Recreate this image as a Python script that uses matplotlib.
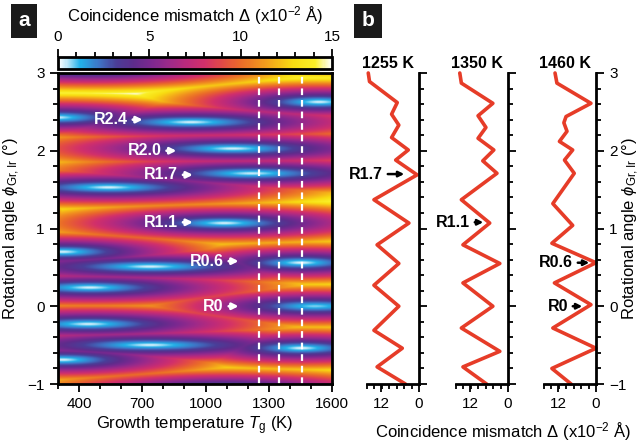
import numpy as np
import matplotlib.pyplot as plt
from matplotlib.colors import LinearSegmentedColormap
from matplotlib.patches import FancyArrowPatch
from matplotlib.ticker import MultipleLocator, FixedLocator

plt.rcParams['font.family'] = ['Liberation Sans', 'DejaVu Sans']
plt.rcParams['mathtext.fontset'] = 'custom'
plt.rcParams['mathtext.rm'] = 'Liberation Sans'
plt.rcParams['mathtext.it'] = 'Liberation Sans:italic'
plt.rcParams['mathtext.bf'] = 'Liberation Sans:bold'

# --- panel a: mismatch minima (blue spots) ---
# centre temperature (K), centre angle (deg), growth of mismatch per K, floor value
spot_T = [1540, 290, 930, 1130, 1220, 540, 1090, 320, 1455, 736, 450,
          1520, 443, 736, 1457, 320, 1090, 540, 450, 1700, 0, 100]
spot_phi = [2.63, 2.43, 2.37, 2.03, 1.71, 1.53, 1.07, 0.70, 0.56, 0.51, 0.24,
            0.00, -0.23, -0.50, -0.54, -0.69, -1.07, -1.53, 3.06, 3.25, 1.98, 1.10]
spot_slope = [0.016, 0.015, 0.011, 0.011, 0.011, 0.011, 0.013, 0.015, 0.016, 0.010, 0.012,
              0.014, 0.012, 0.010, 0.016, 0.015, 0.013, 0.011, 0.013, 0.013, 0.034, 0.050]
spot_floor = [0.3, 0.3, 0.3, 0.3, 0.4, 0.3, 0.3, 0.3, 0.2, 0.3, 0.3,
              0.8, 0.3, 0.3, 0.2, 0.3, 0.3, 0.3, 0.3, 0.3, 0.3, 0.3]
phi_slope = 45  # mismatch growth per degree of rotation

# --- panel b: line cuts at the three dashed temperatures ---
cut_temps = [1255, 1350, 1460]
phi_1255 = [3.0, 2.89, 2.62, 2.47, 2.33, 2.17, 2.01, 1.88, 1.69, 1.37, 1.07,
            0.79, 0.55, 0.27, 0.0, -0.31, -0.54, -0.78, -1.0]
delta_1255 = [16.1, 15.7, 6.9, 8.7, 6.4, 8.7, 3.4, 7.4, 0.6, 14.3, 3.2,
              13.3, 6.4, 14.3, 6.4, 14.3, 5.3, 13.3, 4.3]
phi_1350 = [3.0, 2.87, 2.61, 2.45, 2.30, 2.16, 2.01, 1.87, 1.71, 1.37, 1.07,
            0.79, 0.55, 0.30, 0.0, -0.28, -0.58, -0.78, -1.0]
delta_1350 = [15.3, 14.8, 4.8, 9.5, 7.0, 9.5, 4.5, 8.0, 3.5, 14.8, 5.8,
              14.3, 2.6, 14.3, 4.8, 14.8, 2.6, 14.3, 6.8]
phi_1460 = [3.0, 2.87, 2.61, 2.44, 2.36, 2.25, 2.12, 2.01, 1.88, 1.71, 1.32, 1.04,
            0.81, 0.56, 0.30, 0.02, -0.28, -0.54, -0.80, -1.0]
delta_1460 = [13.0, 12.4, 1.6, 9.5, 10.2, 9.2, 11.6, 7.4, 10.0, 6.9, 13.7, 7.4,
              14.0, 0.0, 13.2, 1.6, 13.7, 0.0, 14.0, 7.9]
cut_phis = [phi_1255, phi_1350, phi_1460]
cut_deltas = [delta_1255, delta_1350, delta_1460]

# colour scale of the map (0 ... 15 x10^-2 A)
cmap_colors = ['#ffffff', '#bfe8f8', '#22b0e8', '#3f72c4', '#4a3e98', '#5e2c8c',
               '#7c2890', '#9c2a8a', '#ba2a7c', '#d2306a', '#e24a46', '#ea6a2a',
               '#f08c20', '#f5b418', '#f8dc12', '#faf028', '#fcf8b0', '#ffffff']
cmap_pos = [0, 0.03, 0.08, 0.15, 0.21, 0.275, 0.34, 0.405, 0.47, 0.535, 0.6, 0.665,
            0.73, 0.795, 0.86, 0.94, 0.975, 1.0]
cmap = LinearSegmentedColormap.from_list('mismatch', list(zip(cmap_pos, cmap_colors)))

# build the map as the lowest mismatch over all listed minima
T = np.linspace(300, 1600, 521)
phi = np.linspace(-1, 3, 801)
TT, PP = np.meshgrid(T, phi)
field = np.full(TT.shape, np.inf)
for t0, p0, a, c in zip(spot_T, spot_phi, spot_slope, spot_floor):
    d = np.sqrt((a * (TT - t0)) ** 2 + (phi_slope * (PP - p0)) ** 2 + c ** 2)
    field = np.minimum(field, d)

fig = plt.figure(figsize=(6.44, 4.46), dpi=100)
W, H = 644, 446


def box(x0, y0, x1, y1):
    return [x0 / W, 1 - y1 / H, (x1 - x0) / W, (y1 - y0) / H]


ax = fig.add_axes(box(58, 73, 332, 384))
im = ax.imshow(field, extent=[300, 1600, -1, 3], origin='lower', aspect='auto',
               cmap=cmap, vmin=0, vmax=15, interpolation='bilinear')
for t in cut_temps:
    ax.axvline(t, color='white', linestyle=(0, (3, 2.2)), linewidth=1.6)
ax.set_xlim(300, 1600)
ax.set_ylim(-1, 3)
ax.set_xticks([400, 700, 1000, 1300, 1600])
ax.xaxis.set_minor_locator(MultipleLocator(100))
ax.set_yticks([-1, 0, 1, 2, 3])
ax.yaxis.set_minor_locator(MultipleLocator(0.2))
ax.tick_params(which='both', direction='out', width=1.3, labelsize=11, colors='black')
ax.tick_params(which='major', length=6)
ax.tick_params(which='minor', length=3.5)
for s in ax.spines.values():
    s.set_linewidth(2)
ax.set_xlabel('Growth temperature $\\mathit{T}_\\mathrm{g}$ (K)', fontsize=12, labelpad=2)
ax.set_ylabel('Rotational angle $\\phi_\\mathrm{Gr,Ir}$ (°)', fontsize=12, labelpad=4)

# structure labels with arrows
labels_a = ['R2.4', 'R2.0', 'R1.7', 'R1.1', 'R0.6', 'R0']
label_T = [630, 790, 868, 868, 1085, 1085]
label_phi = [2.40, 2.00, 1.69, 1.08, 0.58, 0.0]
for name, t, p in zip(labels_a, label_T, label_phi):
    ax.text(t, p, name, color='white', fontweight='bold', fontsize=11.5, ha='right', va='center')
    ax.annotate('', xy=(t + 85, p), xytext=(t + 12, p),
                arrowprops=dict(arrowstyle='-|>', color='white', lw=2, mutation_scale=9))

# colour bar on top
cax = fig.add_axes(box(58, 57, 332, 69))
cb = fig.colorbar(im, cax=cax, orientation='horizontal')
cax.xaxis.set_ticks_position('top')
cb.set_ticks([0, 5, 10, 15])
cax.xaxis.set_minor_locator(MultipleLocator(1))
cax.tick_params(which='both', direction='out', width=1.3, labelsize=11)
cax.tick_params(which='major', length=6)
cax.tick_params(which='minor', length=3.5)
cb.outline.set_linewidth(2)
fig.text(195 / W, 1 - 16 / H, 'Coincidence mismatch Δ (x10$^{-2}$ Å)', fontsize=12,
         ha='center', va='center')

# --- panel b ---
b_left = [367, 456, 544]
b_width = 52
labels_b = [('R1.7', 0, 1.70, 383, 407), ('R1.1', 1, 1.08, 470, 486),
            ('R0.6', 2, 0.56, 573, 592), ('R0', 2, 0.0, 568, 585)]
axes_b = []
for i, (t, ph, de) in enumerate(zip(cut_temps, cut_phis, cut_deltas)):
    bx = fig.add_axes(box(b_left[i], 73, b_left[i] + b_width, 384))
    bx.patch.set_alpha(0)
    bx.plot(de, ph, color='#e63c28', linewidth=2.6, solid_joinstyle='round',
            solid_capstyle='round', clip_on=False)
    bx.set_xlim(16.5, 0)
    bx.set_ylim(-1, 3)
    bx.spines['top'].set_visible(False)
    bx.spines['left'].set_visible(False)
    bx.spines['right'].set_linewidth(2)
    bx.spines['bottom'].set_linewidth(2)
    bx.yaxis.tick_right()
    bx.set_yticks([-1, 0, 1, 2, 3])
    bx.yaxis.set_minor_locator(MultipleLocator(0.2))
    bx.set_xticks([12, 0])
    bx.xaxis.set_minor_locator(FixedLocator(np.linspace(0, 16.5, 8)))
    bx.tick_params(which='both', direction='out', width=1.3, labelsize=11)
    bx.tick_params(which='major', length=6)
    bx.tick_params(which='minor', length=3.5)
    if i < 2:
        bx.tick_params(axis='y', labelright=False)
    fig.text((b_left[i] + 21) / W, 1 - 63 / H, f'{t} K', fontsize=11.5, fontweight='bold',
             ha='center', va='center')
    axes_b.append(bx)

for name, i, p, x_text, x_tip in labels_b:
    y = (73 + (3 - p) / 4 * 311)
    fig.text(x_text / W, 1 - y / H, name, fontsize=11.5, fontweight='bold', ha='right', va='center')
    fig.add_artist(FancyArrowPatch(((x_text + 2) / W, 1 - y / H), (x_tip / W, 1 - y / H),
                                   transform=fig.transFigure, arrowstyle='-|>', color='black',
                                   lw=1.8, mutation_scale=8))

fig.text(631 / W, 1 - 228 / H, 'Rotational angle $\\phi_\\mathrm{Gr,Ir}$ (°)', fontsize=12,
         rotation=90, ha='center', va='center')
fig.text(503 / W, 1 - 432 / H, 'Coincidence mismatch Δ (x10$^{-2}$ Å)', fontsize=12,
         ha='center', va='center')

# panel letters
for letter, cx in [('a', 24), ('b', 368)]:
    fig.text(cx / W, 1 - 21 / H, letter, color='white', fontweight='bold', fontsize=15,
             ha='center', va='center',
             bbox=dict(boxstyle='square,pad=0.35', fc='#1a1a1a', ec='none'))

fig.savefig('out.png', dpi=100)
